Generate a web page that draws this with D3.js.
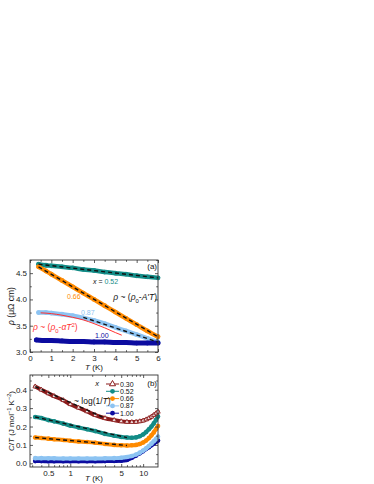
<!DOCTYPE html>
<html>
<head>
<meta charset="utf-8">
<script src="https://cdn.jsdelivr.net/npm/d3@7"></script>
<style>
  html, body { margin: 0; padding: 0; background: #fff; }
  svg { display: block; font-family: "Liberation Sans", Arial, sans-serif; }
  .axis text { font-size: 8px; fill: #222; }
  .axis line { stroke: #333; stroke-width: 0.8; }
</style>
</head>
<body>
<div id="chart"></div>
<script>
// panel (a): resistivity vs T
const tA = [0.4, 0.75, 1, 1.5, 2, 2.5, 3, 3.5, 4, 4.5, 5, 5.5, 6];
const rho052 = [4.67, 4.65, 4.64, 4.62, 4.60, 4.57, 4.55, 4.52, 4.50, 4.48, 4.45, 4.43, 4.41];
const rho066 = [4.62, 4.54, 4.48, 4.36, 4.24, 4.12, 4.00, 3.88, 3.76, 3.64, 3.52, 3.40, 3.29];
const rho087 = [3.75, 3.75, 3.74, 3.72, 3.69, 3.65, 3.60, 3.54, 3.47, 3.40, 3.33, 3.26, 3.19];
const tA100 = [0.3, 0.75, 1, 1.5, 2, 2.5, 3, 3.5, 4, 4.5, 5, 5.5, 6];
const rho100 = [3.23, 3.22, 3.22, 3.21, 3.20, 3.20, 3.19, 3.19, 3.18, 3.18, 3.17, 3.17, 3.17];

// fits: [T, rho]
const fitLin052 = [[0.4, 4.67], [6, 4.41]];
const fitLin066 = [[0.4, 4.62], [6, 3.29]];
const fitLin087 = [[2.5, 3.66], [6, 3.19]];
const fitSq087 = [[0.5, 3.745], [1, 3.73], [1.5, 3.70], [2, 3.66], [2.5, 3.61], [3, 3.54], [3.5, 3.46], [4, 3.37], [4.3, 3.32]];

// panel (b): C/T vs T (log)
const tB = [0.33, 0.4, 0.5, 0.6, 0.8, 1, 1.3, 1.7, 2.2, 3, 4, 5, 6, 7, 8, 9, 10, 11, 12, 13, 14, 15, 16];
const c030 = [0.417, 0.40, 0.38, 0.365, 0.343, 0.321, 0.302, 0.282, 0.262, 0.245, 0.235, 0.228, 0.225, 0.224, 0.225, 0.228, 0.232, 0.238, 0.245, 0.253, 0.262, 0.271, 0.28];
const c052 = [0.252, 0.246, 0.235, 0.228, 0.216, 0.205, 0.195, 0.185, 0.175, 0.16, 0.15, 0.143, 0.14, 0.139, 0.141, 0.147, 0.157, 0.17, 0.185, 0.2, 0.217, 0.235, 0.255];
const c066 = [0.14, 0.138, 0.134, 0.131, 0.127, 0.123, 0.119, 0.116, 0.112, 0.105, 0.10, 0.098, 0.097, 0.098, 0.10, 0.105, 0.113, 0.124, 0.137, 0.152, 0.168, 0.185, 0.203];
const c087 = [0.028, 0.028, 0.027, 0.027, 0.026, 0.026, 0.026, 0.026, 0.026, 0.027, 0.028, 0.03, 0.034, 0.04, 0.048, 0.058, 0.069, 0.081, 0.094, 0.107, 0.12, 0.132, 0.145];
const c100 = [0.012, 0.012, 0.011, 0.011, 0.011, 0.011, 0.011, 0.011, 0.011, 0.012, 0.013, 0.014, 0.018, 0.03, 0.042, 0.055, 0.066, 0.078, 0.088, 0.098, 0.107, 0.116, 0.124];
const fitLog030 = [[0.33, 0.417], [3, 0.245]];
const fitLog052 = [[0.33, 0.252], [6, 0.14]];
const fitLog066 = [[0.33, 0.14], [6, 0.097]];

const xLabelsA = [0, 1, 2, 3, 4, 5, 6];
const yLabelsA = [3.0, 3.5, 4.0, 4.5];
const xLabelsB = [0.5, 1, 5, 10];
const yLabelsB = [0.0, 0.1, 0.2, 0.3, 0.4];
const legendB = ["0.30", "0.52", "0.66", "0.87", "1.00"];

const colors = {
  c030: "#8b1c1c", c052: "#138c87", c066: "#ff8a00",
  c087: "#8cc3f2", c100: "#0c0ca0", red: "#ff3030"
};

const width = 374, height = 484;
const svg = d3.select("#chart").append("svg")
  .attr("width", width).attr("height", height);

const left = 30, right = 158;
const xa = d3.scaleLinear().domain([0, 6]).range([left, right]);
const ya = d3.scaleLinear().domain([3.0, 4.75]).range([352, 260]);
const xb = d3.scaleLog().domain([0.28, 16]).range([left, right]);
const yb = d3.scaleLinear().domain([-0.02, 0.48]).range([467, 375]);

function frame(x, y) {
  const [x0, x1] = x.range();
  const [y0, y1] = y.range();
  svg.append("rect")
    .attr("x", x0).attr("y", y1)
    .attr("width", x1 - x0).attr("height", y0 - y1)
    .attr("fill", "none").attr("stroke", "#333").attr("stroke-width", 0.9);
}

function axes(x, y, xMajor, xMinor, yMajor, yMinor, xFmt, yFmt) {
  const [x0, x1] = x.range();
  const [y0, y1] = y.range();
  const put = (axis, tx, ty, labels) => {
    const g = svg.append("g").attr("class", "axis")
      .attr("transform", `translate(${tx},${ty})`).call(axis);
    g.select(".domain").remove();
    if (!labels) g.selectAll("text").remove();
    return g;
  };
  put(d3.axisBottom(x).tickValues(xMajor).tickSize(-3).tickPadding(3).tickFormat(xFmt), 0, y0, true);
  put(d3.axisBottom(x).tickValues(xMinor).tickSize(-1.8), 0, y0, false);
  put(d3.axisTop(x).tickValues(xMajor).tickSize(-3), 0, y1, false);
  put(d3.axisTop(x).tickValues(xMinor).tickSize(-1.8), 0, y1, false);
  put(d3.axisLeft(y).tickValues(yMajor).tickSize(-3).tickPadding(3).tickFormat(yFmt), x0, 0, true);
  put(d3.axisLeft(y).tickValues(yMinor).tickSize(-1.8), x0, 0, false);
  put(d3.axisRight(y).tickValues(yMajor).tickSize(-3), x1, 0, false);
  put(d3.axisRight(y).tickValues(yMinor).tickSize(-1.8), x1, 0, false);
}

// ---------- panel (a)
const lineA = d3.line().x(d => xa(d[0])).y(d => ya(d[1])).curve(d3.curveMonotoneX);
const zip = (t, v) => t.map((d, i) => [d, v[i]]);

const bandsA = [
  { t: tA, v: rho052, c: colors.c052 },
  { t: tA, v: rho066, c: colors.c066 },
  { t: tA, v: rho087, c: colors.c087 },
  { t: tA100, v: rho100, c: colors.c100 }
];
const gA = svg.append("g");
bandsA.forEach(s => {
  gA.append("path").datum(zip(s.t, s.v))
    .attr("d", lineA).attr("fill", "none")
    .attr("stroke", s.c).attr("stroke-width", s.c === colors.c100 ? 5 : 4.5)
    .attr("stroke-linecap", "round");
  gA.selectAll(null).data(zip(s.t, s.v)).join("circle")
    .attr("cx", d => xa(d[0])).attr("cy", d => ya(d[1])).attr("r", 2.4)
    .attr("fill", s.c);
});
gA.append("path").datum(fitSq087).attr("d", lineA)
  .attr("fill", "none").attr("stroke", colors.red).attr("stroke-width", 1);
[fitLin052, fitLin066, fitLin087].forEach(f => {
  gA.append("path").datum(f).attr("d", lineA)
    .attr("fill", "none").attr("stroke", "#111").attr("stroke-width", 1.4)
    .attr("stroke-dasharray", "4,3");
});

frame(xa, ya);
axes(xa, ya, xLabelsA, d3.range(0.5, 6, 1), yLabelsA, [3.25, 3.75, 4.25, 4.75],
  d3.format("d"), d3.format(".1f"));

function italicText(g, x, y, parts, opts = {}) {
  const t = g.append("text").attr("x", x).attr("y", y)
    .attr("font-size", opts.size || 8).attr("fill", opts.fill || "#111")
    .attr("text-anchor", opts.anchor || "start");
  if (opts.rotate) t.attr("transform", `rotate(-90,${x},${y})`);
  parts.forEach(p => {
    const s = t.append("tspan").text(p.s);
    if (p.i) s.attr("font-style", "italic");
    if (p.fill) s.attr("fill", p.fill);
    if (p.sub) s.attr("baseline-shift", "sub").attr("font-size", (opts.size || 8) * 0.7);
    if (p.sup) s.attr("baseline-shift", "super").attr("font-size", (opts.size || 8) * 0.7);
  });
  return t;
}

italicText(svg, 157, 269, [{ s: "(a)" }], { anchor: "end", size: 8 });
italicText(svg, 93, 284, [{ s: "x", i: true }, { s: " = " }, { s: "0.52", fill: colors.c052 }], { size: 7 });
italicText(svg, 67, 299, [{ s: "0.66", fill: colors.c066 }], { size: 7 });
italicText(svg, 81, 315, [{ s: "0.87", fill: colors.c087 }], { size: 7 });
italicText(svg, 95, 337.5, [{ s: "1.00", fill: colors.c100 }], { size: 7 });
italicText(svg, 157, 300, [
  { s: "ρ", i: true }, { s: " ~ (" }, { s: "ρ", i: true }, { s: "0", sub: true },
  { s: "-" }, { s: "A'T", i: true }, { s: ")" }
], { anchor: "end", size: 8.5 });
italicText(svg, 33, 330, [
  { s: "ρ", i: true }, { s: " ~ (" }, { s: "ρ", i: true }, { s: "0", sub: true },
  { s: "-" }, { s: "αT", i: true }, { s: "2", sup: true }, { s: ")" }
], { size: 8.5, fill: colors.red });
italicText(svg, 94, 370, [{ s: "T", i: true }, { s: " (K)" }], { anchor: "middle", size: 8 });
italicText(svg, 14, 306, [{ s: "ρ", i: true }, { s: " (μΩ cm)" }], { anchor: "middle", size: 8.5, rotate: true });

// ---------- panel (b)
const lineB = d3.line().x(d => xb(d[0])).y(d => yb(d[1])).curve(d3.curveMonotoneX);
const seriesB = [
  { v: c030, c: colors.c030, open: true },
  { v: c052, c: colors.c052 },
  { v: c066, c: colors.c066 },
  { v: c087, c: colors.c087 },
  { v: c100, c: colors.c100 }
];
const tri = d3.symbol().type(d3.symbolTriangle).size(9);
const gB = svg.append("g");
seriesB.slice().reverse().forEach(s => {
  const pts = zip(tB, s.v);
  gB.append("path").datum(pts).attr("d", lineB).attr("fill", "none")
    .attr("stroke", s.c).attr("stroke-width", 4).attr("stroke-linecap", "round");
  if (s.open) {
    gB.selectAll(null).data(pts).join("path")
      .attr("transform", d => `translate(${xb(d[0])},${yb(d[1])})`)
      .attr("d", tri).attr("fill", "#f4e6e6").attr("stroke", s.c).attr("stroke-width", 0.8);
  } else {
    gB.selectAll(null).data(pts).join("circle")
      .attr("cx", d => xb(d[0])).attr("cy", d => yb(d[1])).attr("r", 2.3)
      .attr("fill", s.c);
  }
});
[fitLog030, fitLog052, fitLog066].forEach(f => {
  gB.append("path").datum(f)
    .attr("d", d3.line().x(d => xb(d[0])).y(d => yb(d[1])))
    .attr("fill", "none").attr("stroke", "#111").attr("stroke-width", 1.4)
    .attr("stroke-dasharray", "4,3");
});

frame(xb, yb);
axes(xb, yb, xLabelsB, [0.3, 0.4, 0.6, 0.7, 0.8, 0.9, 2, 3, 4, 6, 7, 8, 9],
  yLabelsB, [0.05, 0.15, 0.25, 0.35, 0.45], d3.format(""), d3.format(".1f"));

italicText(svg, 157, 386, [{ s: "(b)" }], { anchor: "end", size: 8 });
italicText(svg, 97, 386, [{ s: "x", i: true }], { anchor: "middle", size: 7.5 });
const legend = svg.append("g");
legendB.forEach((lab, i) => {
  const s = seriesB[i];
  const yy = 384 + i * 7.3;
  legend.append("line").attr("x1", 106).attr("x2", 119).attr("y1", yy).attr("y2", yy)
    .attr("stroke", s.c).attr("stroke-width", 1);
  if (s.open) {
    legend.append("path").attr("transform", `translate(112.5,${yy})`)
      .attr("d", d3.symbol().type(d3.symbolTriangle).size(16))
      .attr("fill", "#fff").attr("stroke", s.c).attr("stroke-width", 1);
  } else {
    legend.append("circle").attr("cx", 112.5).attr("cy", yy).attr("r", 2.4).attr("fill", s.c);
  }
  legend.append("text").attr("x", 120).attr("y", yy + 2.5)
    .attr("font-size", 7).attr("fill", "#111").text(lab);
});
italicText(svg, 74, 404, [{ s: "~ log(1/" }, { s: "T", i: true }, { s: ")" }], { size: 8.5 });
italicText(svg, 94, 481, [{ s: "T", i: true }, { s: " (K)" }], { anchor: "middle", size: 8 });
italicText(svg, 14, 421, [
  { s: "C", i: true }, { s: "/" }, { s: "T", i: true }, { s: " (J mol" }, { s: "−1", sup: true },
  { s: " K" }, { s: "−2", sup: true }, { s: ")" }
], { anchor: "middle", size: 8, rotate: true });
</script>
</body>
</html>
